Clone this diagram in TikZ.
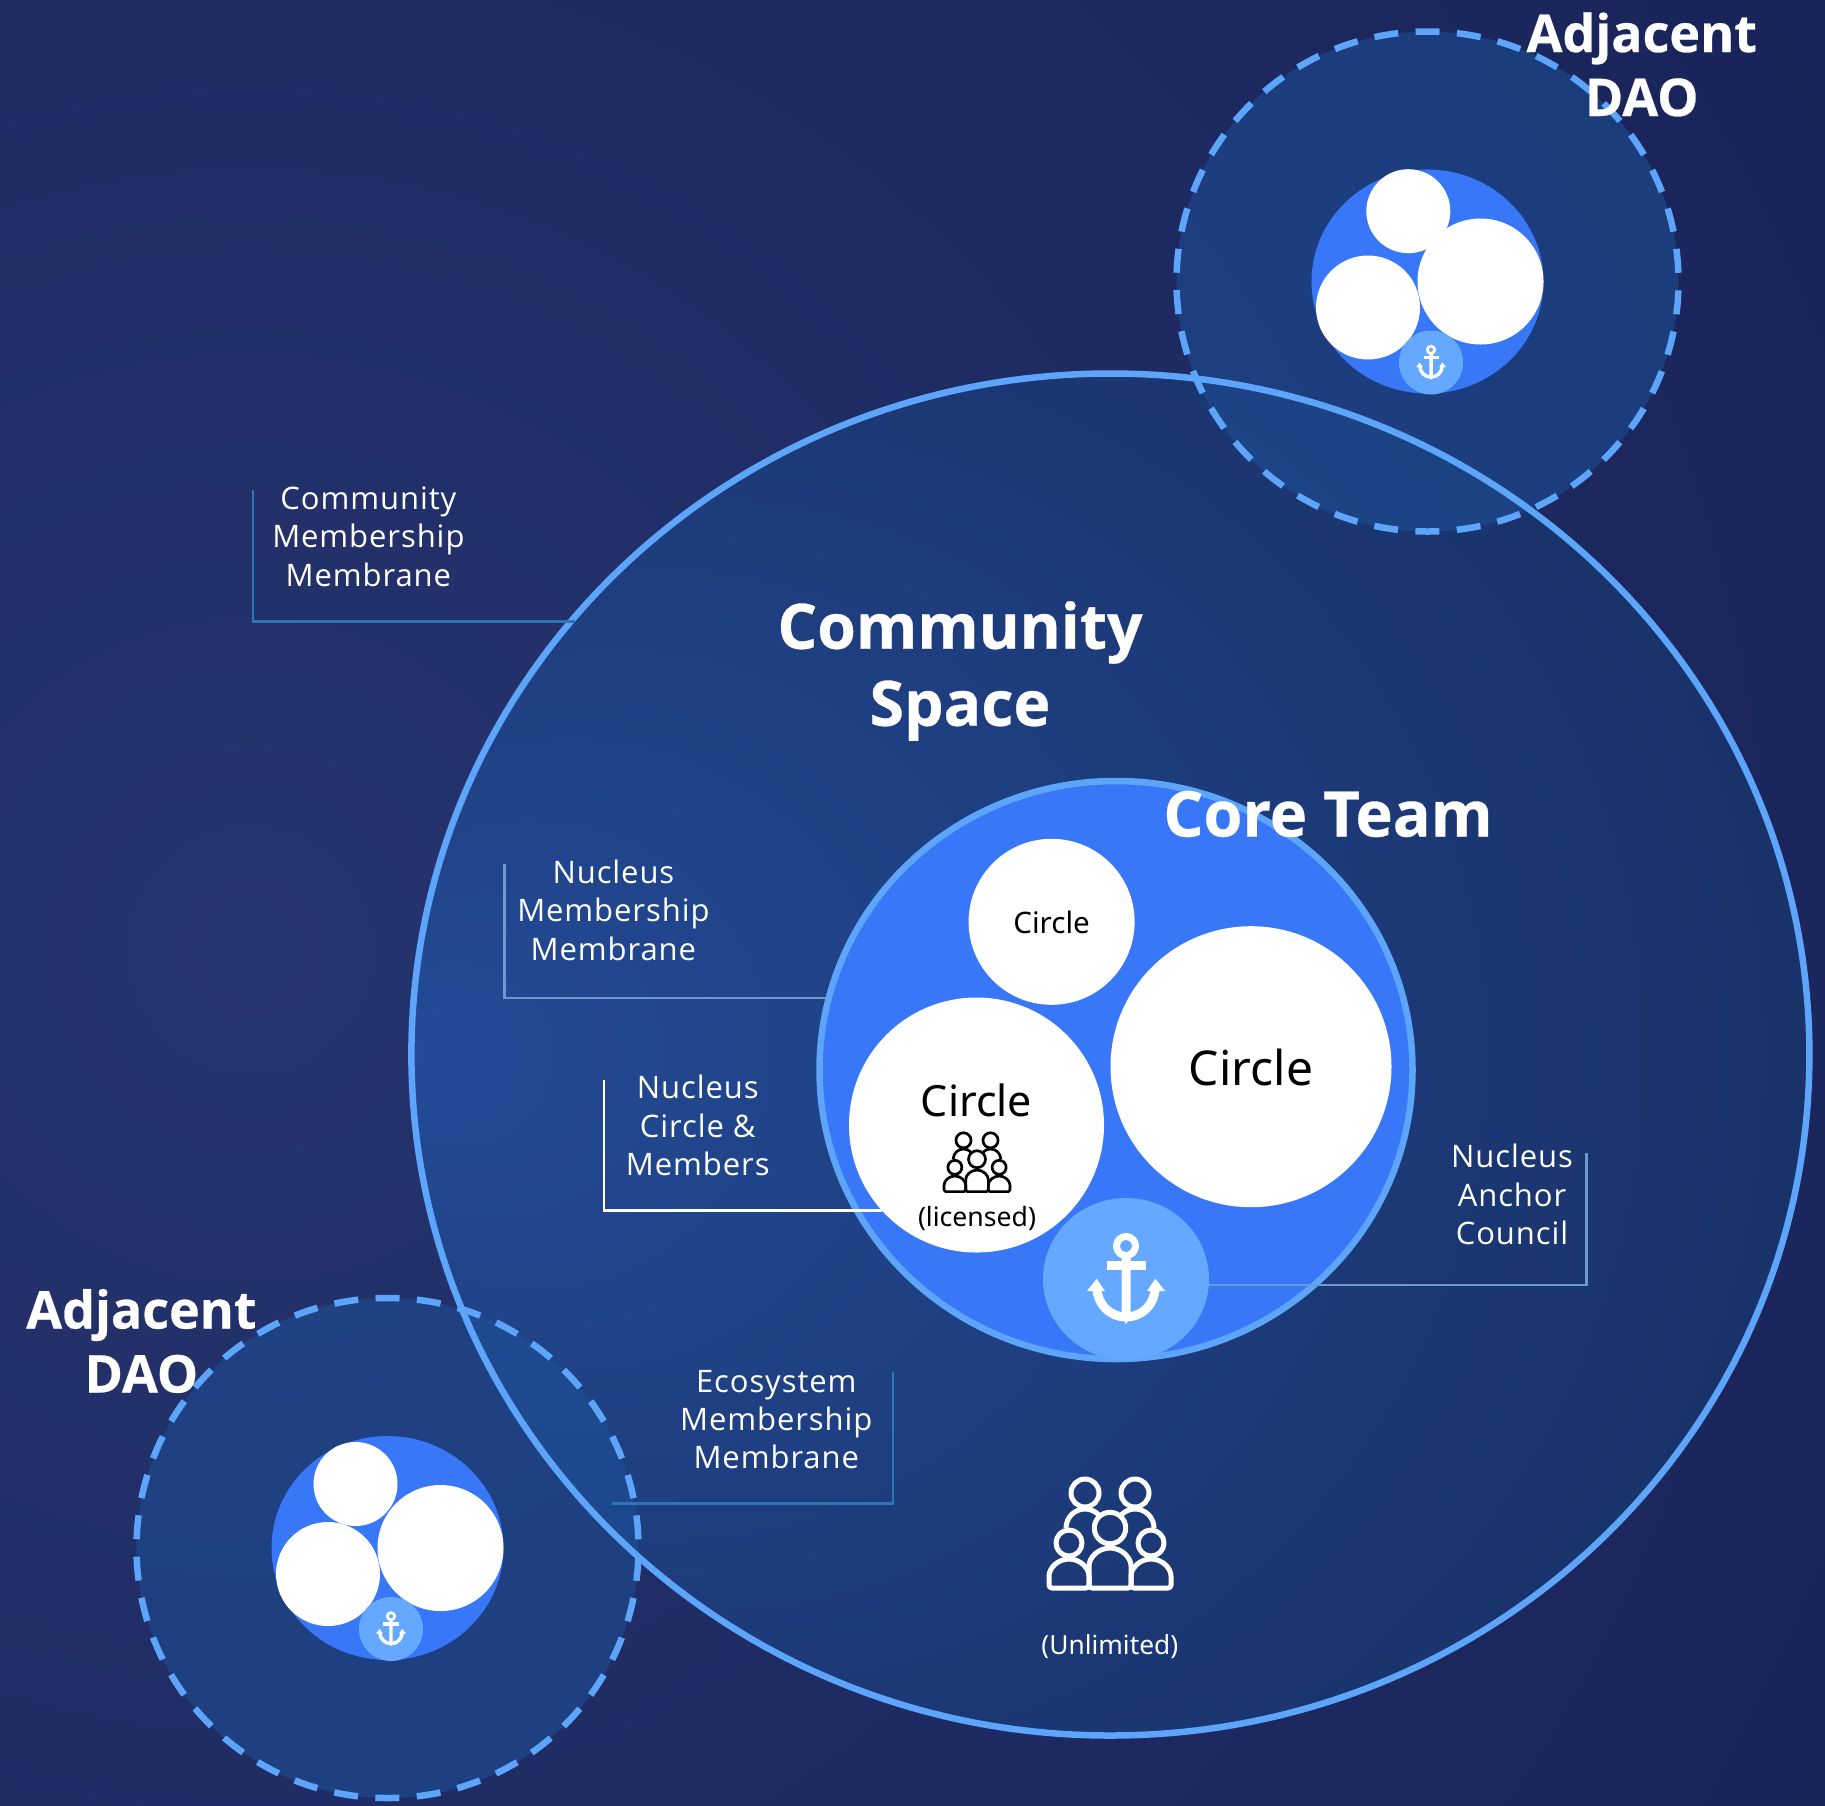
\documentclass[tikz,border=0pt]{standalone}
\usepackage{fontspec}
\usetikzlibrary{shapes.geometric}
\setmainfont{Noto Sans}
\newfontfamily\labelfont[LetterSpace=3]{Open Sans}
\newfontfamily\headfont[BoldFeatures={FakeBold=0.5}]{Open Sans}

\definecolor{pageglow}{HTML}{26346F}
\definecolor{pagedark}{HTML}{141F52}
\definecolor{spaceglow}{HTML}{234B96}
\definecolor{spacedark}{HTML}{152858}
\definecolor{membrane}{HTML}{5CA5FA}
\definecolor{nucleus}{HTML}{3878F8}
\definecolor{anchorblue}{HTML}{64A8FF}
\definecolor{daotint}{HTML}{1D5098}
\definecolor{leaderdim}{HTML}{2F75B5}
\definecolor{leadermid}{HTML}{6A9BD5}

\pgfdeclareradialshading{pageshade}{\pgfpointorigin}{color(0bp)=(pageglow); color(34bp)=(pagedark); color(50bp)=(pagedark)}
\pgfdeclareradialshading{spaceshade}{\pgfpoint{-25bp}{0bp}}{color(0bp)=(spaceglow); color(46bp)=(spacedark); color(50bp)=(spacedark)}

\tikzset{
    disc/.style={circle, fill=white, inner sep=0pt},
    leader/.style={line width=2.2pt},
    note/.style={align=center, text=white, font=\labelfont\fontsize{31}{38.4}\selectfont},
    heading/.style 2 args={align=center, text=white, font=\headfont\bfseries\fontsize{#1}{#2}\selectfont}
}

% anchor glyph around a named point
\newcommand{\anchorsign}[2]{
    \begin{scope}[shift={(#1)}, scale=#2]
        \draw[white, line width=#2*7pt] (0,33) circle (9.5);
        \fill[white] (-19.5,9) rectangle (19.5,18);
        \fill[white] (-4.5,24) -- (4.5,24) -- (4.5,-38) -- (0,-45) -- (-4.5,-38) -- cycle;
        \draw[white, line width=#2*9pt] (-29,-9) arc (180:360:29);
        \fill[white] (-29.3,0.3) -- (-39,-12) -- (-21,-12) -- cycle;
        \fill[white] (29.3,0.3) -- (39,-12) -- (21,-12) -- cycle;
    \end{scope}
}

% group of people standing on a named point
\newcommand{\crowdsign}[3]{
    \begin{scope}[shift={(#1)}, scale=#3, #2, line width=#3*5pt, line join=round]
        \foreach \side in {-1,1} {
            \draw (\side*25,97) circle (14);
            \draw (\side*41,47) circle (13);
        }
        \draw[rounded corners=#3*3pt] (-61,2) -- (-61,11) arc (180:0:20) -- (-21,2) -- cycle;
        \draw[rounded corners=#3*3pt] (21,2) -- (21,11) arc (180:0:20) -- (61,2) -- cycle;
        \draw (0,62) circle (15.7);
        \draw[rounded corners=#3*3pt] (-21,2) -- (-21,21) arc (180:0:21) -- (21,2) -- cycle;
        \draw (-44,62) arc (180:45:19);
        \draw (44,62) arc (0:135:19);
    \end{scope}
}

\begin{document}
\begin{tikzpicture}[x=1pt, y=1pt]
    \useasboundingbox (0,0) rectangle (1825,-1805);
    \clip (0,0) rectangle (1825,-1805);
    \fill[shading=pageshade] (-1500,800) rectangle (2000,-2700);

    % community space
    \node[ellipse, shading=spaceshade, inner sep=0pt,
        minimum width=1398pt, minimum height=1362pt] (space) at (1110.4,-1054.5) {};

    % adjacent groups
    \foreach \name/\cx/\cy in {top/1427.5/-281.5, low/387.5/-1548} {
        \node[ellipse, fill=daotint, fill opacity=0.55, inner sep=0pt,
            minimum width=502pt, minimum height=500pt] (dao\name) at (\cx,\cy) {};
    }
    \node[ellipse, draw=membrane, line width=6.5pt, inner sep=0pt,
        minimum width=1398pt, minimum height=1362pt] (spaceline) at (space) {};
    \foreach \name/\cx/\cy/\smallx/\smally in {top/1427.5/-281.5/-19.2/70.3, low/387.5/-1548/-32/64} {
        \begin{scope}[shift={(\cx,\cy)}]
            \node[ellipse, draw=membrane, line width=6.5pt, dash pattern=on 24pt off 17.42pt, dash phase=32.7pt, inner sep=0pt,
                minimum width=502pt, minimum height=500pt] (ring\name) at (0,0) {};
            \node[ellipse, fill=nucleus, inner sep=0pt, minimum width=232pt, minimum height=224pt] (inner\name) at (0,0) {};
            \node[disc, minimum size=84pt] (smallcircle\name) at (\smallx,\smally) {};
            \node[disc, minimum size=126pt] (bigcircle\name) at (53,0) {};
            \node[disc, minimum size=104pt] (midcircle\name) at (-59.5,-26) {};
            \node[circle, fill=anchorblue, inner sep=0pt, minimum size=64pt] (seal\name) at (3.5,-81) {};
        \end{scope}
        \anchorsign{seal\name}{0.385}
    }

    % nucleus
    \node[ellipse, draw=membrane, line width=6.5pt, fill=nucleus, inner sep=0pt,
        minimum width=593pt, minimum height=578pt] (core) at (1116,-1070) {};
    \node[disc, minimum size=166pt] (circlesmall) at (1051.6,-921.8) {};
    \node[disc, minimum size=281pt] (circlebig) at (1251,-1066.7) {};
    \node[disc, minimum size=255pt] (circlemid) at (976.5,-1125) {};
    \node[ellipse, fill=anchorblue, inner sep=0pt, minimum width=166pt, minimum height=162pt] (seal) at (1126,-1279) {};
    \anchorsign{seal}{1}

    % leader lines
    \coordinate (communitytick) at (252.6,-490);
    \coordinate (communityend) at (575,-621.5);
    \coordinate (nucleustick) at (504.5,-863.6);
    \coordinate (licensedtick) at (604,-1080);
    \coordinate (counciltick) at (1586.5,-1153.4);
    \coordinate (ecotick) at (892.7,-1372);
    \coordinate (ecoend) at (612,-1503.5);
    \draw[leader, leaderdim] (communitytick) |- (communityend);
    \draw[leader, leadermid] (nucleustick) |- (core.166.2);
    \draw[leader, white] (licensedtick) |- (circlemid.222);
    \draw[leader, leadermid] (counciltick) |- (seal.-4.9);
    \draw[leader, leaderdim] (ecotick) |- (ecoend);

    % labels
    \node[note] (communitynote) at (368.4,-536.4) {Community\\Membership\\Membrane};
    \node[note] (nucleusnote) at (613.4,-910) {Nucleus\\Membership\\Membrane};
    \node[note] (licensednote) at (697.8,-1125.5) {Nucleus\\Circle \&\\Members};
    \node[note] (councilnote) at (1512,-1194.5) {Nucleus\\Anchor\\Council};
    \node[note] (econote) at (776.3,-1419.6) {Ecosystem\\Membership\\Membrane};

    \node[heading={62.5}{77}] (spacetitle) at (960,-671) {Community\\Space};
    \node[heading={63}{77}] (coretitle) at (1328,-814) {Core Team};
    \node[heading={52}{64}] (daotop) at (1641.7,-64.5) {Adjacent\\DAO};
    \node[heading={52}{64}] (daolow) at (141.4,-1341) {Adjacent\\DAO};

    \node[font=\fontsize{48}{58}\selectfont] (bigtext) at (1251,-1067.7) {Circle};
    \node[font=\fontsize{43}{52}\selectfont] (midtext) at (976.5,-1100) {Circle};
    \node[font=\fontsize{29.6}{36}\selectfont] (smalltext) at (1051.6,-922.8) {Circle};
    \node[font=\fontsize{26.6}{32}\selectfont] (licensedtext) at (977,-1218.3) {(licensed)};
    \node[font=\fontsize{26.3}{32}\selectfont, text=white] (unlimitedtext) at (1109.8,-1646.4) {(Unlimited)};

    \coordinate (licensedcrowd) at (977,-1192.7);
    \coordinate (crowd) at (1110,-1590);
    \crowdsign{licensedcrowd}{black}{0.54}
    \crowdsign{crowd}{white}{1}
\end{tikzpicture}
\end{document}
